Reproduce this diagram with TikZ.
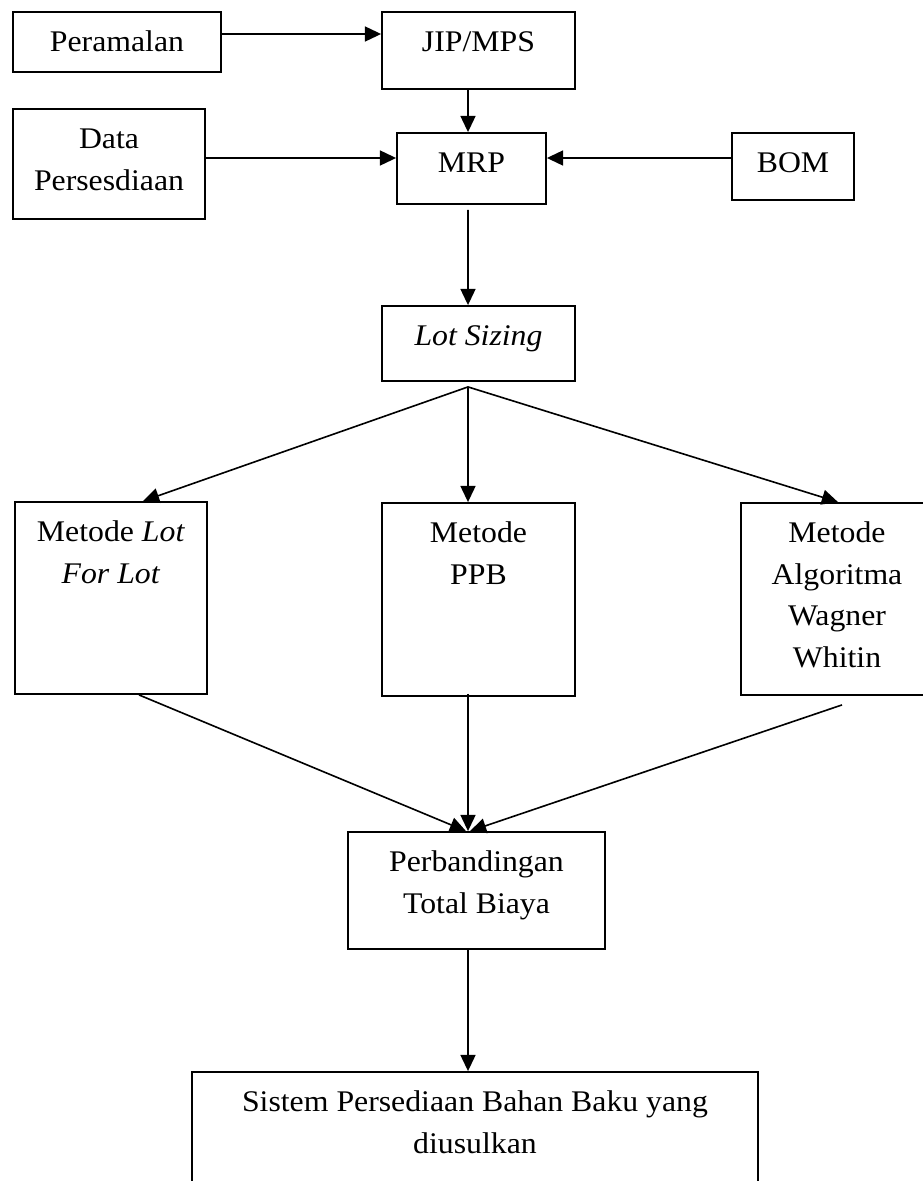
\documentclass[tikz,border=0pt]{standalone}
\usepackage{fontspec}
\setmainfont[FakeStretch=1.06]{Liberation Serif}
\usetikzlibrary{arrows.meta}
\begin{document}
\begin{tikzpicture}[>={Triangle[length=7pt,width=6.5pt]},
  kotak/.style={draw,line width=0.8pt,inner sep=0pt},
  teks/.style={anchor=north,inner sep=0pt,align=center,font=\fontsize{13}{18}\selectfont},
  panah/.style={->,line width=0.7pt}]
\def\h{0.015239}
\def\punkt#1#2{({(#1)*\h},{-(#2)*\h})}
\def\kotak#1#2#3#4#5#6{%
  \node[kotak,minimum width={(#4-#2)*\h cm},minimum height={(#5-#3)*\h cm}] (#1) at \punkt{(#2+#4)/2}{(#3+#5)/2} {};
  \node[teks] (#1-teks) at ([yshift=-11*\h cm]#1.north) {\strut #6};}
\useasboundingbox \punkt{0}{0} rectangle \punkt{922}{1181};

\kotak{per}{13}{12}{221}{72}{Peramalan}
\kotak{jip}{382}{12}{575}{89}{JIP/MPS}
\kotak{data}{13}{109}{205}{219}{Data\\Persesdiaan}
\kotak{mrp}{397}{133}{546}{204}{MRP}
\kotak{bom}{732}{133}{854}{200}{BOM}
\kotak{lot}{382}{306}{575}{381}{\textit{Lot Sizing}}

\kotak{lfl}{15}{502}{207}{694}{Metode \textit{Lot}\\\textit{For Lot}}
\kotak{ppb}{382}{503}{575}{696}{Metode\\PPB}
\kotak{ww}{741}{503}{933}{695}{Metode\\Algoritma\\Wagner\\Whitin}

\kotak{banding}{348}{832}{605}{949}{Perbandingan\\Total Biaya}
\kotak{sistem}{192}{1072}{758}{1200}{Sistem Persediaan Bahan Baku yang\\diusulkan}

\draw[panah] ([yshift=8*\h cm]per.east) -- ([yshift=16.5*\h cm]jip.west);
\draw[panah] ([xshift=-10.5*\h cm]jip.south) -- ([xshift=-3.5*\h cm]mrp.north);
\draw[panah] ([yshift=6*\h cm]data.east) -- ([yshift=10.5*\h cm]mrp.west);
\draw[panah] ([yshift=8.5*\h cm]bom.west) -- ([yshift=10.5*\h cm]mrp.east);
\draw[panah] ([xshift=-3.5*\h cm,yshift=-5*\h cm]mrp.south) -- ([xshift=-10.5*\h cm]lot.north);

\coordinate (cabang) at ([xshift=-10.5*\h cm,yshift=-5*\h cm]lot.south);
\foreach \t/\dx in {lfl/32,ppb/-10.5,ww/1}{
  \draw[panah] (cabang) -- ([xshift=\dx*\h cm]\t.north);
}

\draw[panah] ([xshift=28*\h cm]lfl.south) -- ([xshift=-10.5*\h cm]banding.north);
\draw[panah] ([xshift=-10.5*\h cm,yshift=3*\h cm]ppb.south) -- ([xshift=-8.5*\h cm]banding.north);
\draw[panah] ([xshift=5*\h cm,yshift=-9*\h cm]ww.south) -- ([xshift=-6.5*\h cm]banding.north);

\draw[panah] ([xshift=-8.5*\h cm]banding.south) -- ([xshift=-7*\h cm]sistem.north);

\end{tikzpicture}
\end{document}
